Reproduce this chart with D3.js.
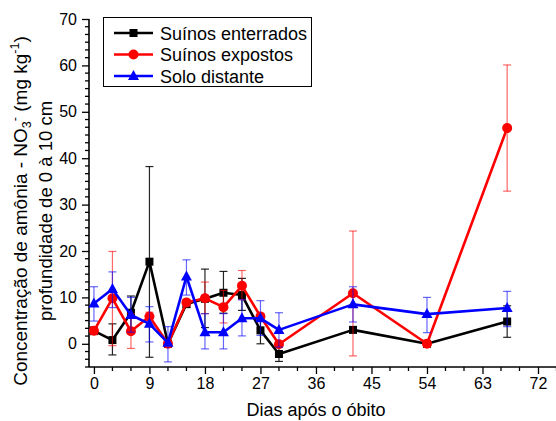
<!DOCTYPE html>
<html>
<head>
<meta charset="utf-8">
<script src="https://cdn.jsdelivr.net/npm/d3@7"></script>
<style>
html,body{margin:0;padding:0;background:#fff;}
svg{display:block;}
svg text{font-family:"Liberation Sans",Arial,sans-serif;}
</style>
</head>
<body>
<svg id="chart" width="556" height="421"></svg>
<script>
const days = [0, 3, 6, 9, 12, 15, 18, 21, 24, 27, 30, 42, 54, 67];

const enterrados     = [2.8, 0.8, 6.7, 17.7, 0.0, 8.6, 9.7, 11.0, 10.5, 2.9, -2.2, 3.0, 0.0, 4.8];
const enterradosLow  = [2.0, -2.4, 2.4, -2.9, -0.5, 7.8, 3.5, 6.6, 7.2, 0.0, -3.8, 2.4, -0.5, 1.4];
const enterradosHigh = [3.6, 4.3, 10.3, 38.2, 0.5, 9.4, 16.1, 15.6, 14.1, 6.0, -0.6, 3.6, 0.5, 8.2];

const expostos     = [2.8, 9.8, 2.7, 5.9, 0.0, 8.9, 9.8, 7.9, 12.5, 5.9, -0.1, 10.9, 0.0, 46.5];
const expostosLow  = [2.0, -0.4, -1.0, 5.0, -0.5, 8.2, 6.5, 4.5, 9.5, 5.2, -0.6, -2.6, -0.5, 32.9];
const expostosHigh = [3.6, 19.9, 6.5, 6.8, 0.5, 9.6, 13.3, 11.5, 15.8, 6.6, 0.4, 24.3, 0.5, 60.1];

const distante     = [8.7, 11.8, 6.2, 4.3, 0.2, 14.5, 2.5, 2.5, 5.5, 5.5, 3.0, 8.5, 6.4, 7.7];
const distanteLow  = [4.9, 7.8, 2.5, 0.4, -3.9, 10.5, -1.1, -1.1, 1.7, 1.8, -0.7, 4.7, 2.4, 3.7];
const distanteHigh = [12.3, 15.5, 10.0, 8.0, 3.7, 18.1, 6.5, 6.5, 9.5, 9.3, 6.7, 12.3, 10.0, 11.3];

const seriesNames = ["Suínos enterrados", "Suínos expostos", "Solo distante"];
const xTicks = [0, 9, 18, 27, 36, 45, 54, 63, 72];
const yTicks = [0, 10, 20, 30, 40, 50, 60, 70];

const FONT = "'Liberation Sans', Arial, sans-serif";

const series = [
  {name: seriesNames[0], v: enterrados, lo: enterradosLow, hi: enterradosHigh, color: "#000000", err: "rgba(0,0,0,0.85)", shape: "square"},
  {name: seriesNames[1], v: expostos, lo: expostosLow, hi: expostosHigh, color: "#ff0000", err: "rgba(255,0,0,0.6)", shape: "circle"},
  {name: seriesNames[2], v: distante, lo: distanteLow, hi: distanteHigh, color: "#0000ff", err: "rgba(0,0,255,0.6)", shape: "triangle"}
];

const svg = d3.select("#chart");
const x = d3.scaleLinear().domain([-0.8, 75]).range([89, 556.5]);
const y = d3.scaleLinear().domain([-5, 70]).range([367, 19]);

// axes
const xAxis = d3.axisBottom(x).tickValues(xTicks).tickSize(7).tickPadding(4).tickFormat(d3.format("d"));
const gx = svg.append("g").attr("transform", "translate(0,367)").call(xAxis);
const xMinor = d3.range(0, 76, 3).filter(d => d % 9 !== 0);
gx.selectAll(".minor").data(xMinor).enter().append("line")
  .attr("x1", d => x(d)).attr("x2", d => x(d)).attr("y1", 0).attr("y2", 4)
  .attr("stroke", "#000").attr("stroke-width", 1.3);

const yAxis = d3.axisLeft(y).tickValues(yTicks).tickSize(7).tickPadding(5).tickFormat(d3.format("d"));
const gy = svg.append("g").attr("transform", "translate(89,0)").call(yAxis);
const yMinorVals = [];
for (let k = -3; k <= 42; k++) {
  const v = k * 10 / 6;
  if (v >= -5 && v <= 70 && Math.abs(v / 10 - Math.round(v / 10)) > 1e-6) yMinorVals.push(v);
}
gy.selectAll(".minor").data(yMinorVals).enter().append("line")
  .attr("x1", 0).attr("x2", -4).attr("y1", d => y(d)).attr("y2", d => y(d))
  .attr("stroke", "#000").attr("stroke-width", 1.3);

[gx, gy].forEach(g => {
  g.attr("font-family", FONT);
  g.select(".domain").attr("stroke", "#000").attr("stroke-width", 1.6);
  g.selectAll(".tick line").attr("stroke", "#000").attr("stroke-width", 1.3);
  g.selectAll(".tick text").attr("font-size", 16).attr("fill", "#000").attr("font-family", FONT);
});
gx.select(".domain").attr("d", "M89,0H556");
gy.select(".domain").attr("d", "M0,367V19");

// data
const plot = svg.append("g");
series.forEach(s => {
  const pts = days.map((d, i) => ({d, v: s.v[i], lo: s.lo[i], hi: s.hi[i]}));
  const g = plot.append("g");
  const eb = g.selectAll(".eb").data(pts).enter().append("g");
  eb.append("line").attr("x1", p => x(p.d)).attr("x2", p => x(p.d))
    .attr("y1", p => y(p.lo)).attr("y2", p => y(p.hi)).attr("stroke", s.err).attr("stroke-width", 1.2);
  eb.append("line").attr("x1", p => x(p.d) - 4).attr("x2", p => x(p.d) + 4)
    .attr("y1", p => y(p.hi)).attr("y2", p => y(p.hi)).attr("stroke", s.err).attr("stroke-width", 1.2);
  eb.append("line").attr("x1", p => x(p.d) - 4).attr("x2", p => x(p.d) + 4)
    .attr("y1", p => y(p.lo)).attr("y2", p => y(p.lo)).attr("stroke", s.err).attr("stroke-width", 1.2);
  g.append("path").datum(pts)
    .attr("d", d3.line().x(p => x(p.d)).y(p => y(p.v)))
    .attr("fill", "none").attr("stroke", s.color).attr("stroke-width", 2.6).attr("stroke-linejoin", "round");
  pts.forEach(p => drawMarker(g, x(p.d), y(p.v), s));
});

function drawMarker(g, cx, cy, s) {
  if (s.shape === "square") {
    g.append("rect").attr("x", cx - 4).attr("y", cy - 4).attr("width", 8).attr("height", 8).attr("fill", s.color);
  } else if (s.shape === "circle") {
    g.append("circle").attr("cx", cx).attr("cy", cy).attr("r", 5).attr("fill", s.color);
  } else {
    g.append("path").attr("d", `M${cx},${cy - 6}L${cx + 5.5},${cy + 4}L${cx - 5.5},${cy + 4}Z`).attr("fill", s.color);
  }
}

// legend
const lg = svg.append("g");
lg.append("rect").attr("x", 103.5).attr("y", 17.5).attr("width", 208).attr("height", 69)
  .attr("fill", "#fff").attr("stroke", "#000").attr("stroke-width", 1);
series.forEach((s, i) => {
  const cy = 33 + i * 21.5;
  lg.append("line").attr("x1", 114).attr("x2", 153).attr("y1", cy).attr("y2", cy)
    .attr("stroke", s.color).attr("stroke-width", 2.6);
  drawMarker(lg, 133.5, cy, s);
  lg.append("text").attr("x", 160).attr("y", cy + 6.5).attr("font-size", 18)
    .attr("font-family", FONT).attr("fill", "#000").text(s.name);
});

// axis titles
svg.append("text").attr("x", x(36)).attr("y", 416).attr("text-anchor", "middle")
  .attr("font-size", 18).attr("font-family", FONT).attr("fill", "#000").text("Dias após o óbito");

const yt = svg.append("text").attr("transform", "translate(27,211) rotate(-90)")
  .attr("text-anchor", "middle").attr("font-size", 19).attr("font-family", FONT).attr("fill", "#000");
yt.append("tspan").text("Concentração de amônia - NO");
yt.append("tspan").attr("font-size", 12.5).attr("dy", 4).text("3");
yt.append("tspan").attr("font-size", 12.5).attr("dy", -12).text("-");
yt.append("tspan").attr("dy", 8).text(" (mg kg");
yt.append("tspan").attr("font-size", 12.5).attr("dy", -8).text("-1");
yt.append("tspan").attr("dy", 8).text(")");

svg.append("text").attr("transform", "translate(52,211) rotate(-90)")
  .attr("text-anchor", "middle").attr("font-size", 18.5).attr("font-family", FONT).attr("fill", "#000")
  .text("profundidade de 0 à 10 cm");
</script>
</body>
</html>
